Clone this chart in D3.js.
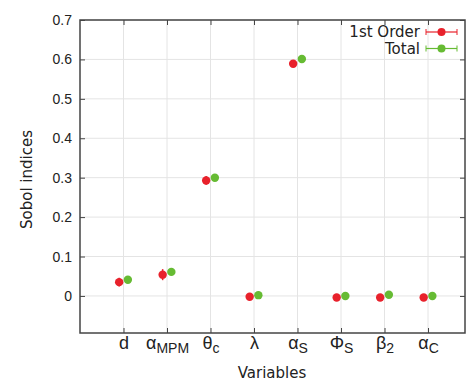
<!DOCTYPE html>
<html>
<head>
<meta charset="utf-8">
<script src="https://cdn.jsdelivr.net/npm/d3@7"></script>
<style>
  body { margin: 0; background: #fff; }
  svg { font-family: "DejaVu Sans", sans-serif; }
</style>
</head>
<body>
<script>
// Categories: [base symbol, subscript]
const categories = [["d", ""], ["α", "MPM"], ["θ", "c"], ["λ", ""], ["α", "S"], ["Φ", "S"], ["β", "2"], ["α", "C"]];
const firstOrder = [0.035, 0.054, 0.293, -0.002, 0.589, -0.004, -0.004, -0.004];
const firstOrderErr = [0.011, 0.014, 0.011, 0.007, 0.005, 0.007, 0.007, 0.007];
const total = [0.041, 0.061, 0.300, 0.002, 0.601, 0.000, 0.003, 0.000];
const totalErr = [0.004, 0.004, 0.004, 0.003, 0.009, 0.003, 0.003, 0.003];
const yTicks = [0, 0.1, 0.2, 0.3, 0.4, 0.5, 0.6, 0.7];

const width = 469;
const height = 382;
const marginTop = 20;
const marginRight = 4;
const marginBottom = 49;
const marginLeft = 80;

const x = d3.scaleLinear([0, 8.85], [marginLeft, width - marginRight]);
const y = d3.scaleLinear([-0.094, 0.7], [height - marginBottom, marginTop]);

const red = "#e8212b";
const green = "#66bb33";

const svg = d3.select("body").append("svg")
  .attr("width", width)
  .attr("height", height)
  .attr("viewBox", [0, 0, width, height]);

const idx = d3.range(1, categories.length + 1);

// Grid lines
svg.append("g")
  .selectAll("line.h")
  .data(yTicks)
  .join("line")
  .attr("x1", marginLeft).attr("x2", width - marginRight)
  .attr("y1", (d) => y(d)).attr("y2", (d) => y(d))
  .attr("stroke", "#e4e4e4");
svg.append("g")
  .selectAll("line.v")
  .data(idx)
  .join("line")
  .attr("x1", (d) => x(d)).attr("x2", (d) => x(d))
  .attr("y1", marginTop).attr("y2", height - marginBottom)
  .attr("stroke", "#e4e4e4");

// Left axis
svg.append("g")
  .attr("transform", `translate(${marginLeft},0)`)
  .call(d3.axisLeft(y).tickValues(yTicks).tickSize(-5).tickPadding(8)
    .tickFormat((d) => d === 0 ? "0" : d3.format(".1f")(d)))
  .call((g) => g.select(".domain").remove())
  .call((g) => g.selectAll("text").attr("font-size", 14).attr("fill", "#222"))
  .call((g) => g.selectAll(".tick line").attr("stroke", "#444"));

// Right mirror ticks
svg.append("g")
  .attr("transform", `translate(${width - marginRight},0)`)
  .call(d3.axisRight(y).tickValues(yTicks).tickSize(-5).tickFormat(""))
  .call((g) => g.select(".domain").remove())
  .call((g) => g.selectAll(".tick line").attr("stroke", "#444"));

// Bottom axis
const xAxis = svg.append("g")
  .attr("transform", `translate(0,${height - marginBottom})`)
  .call(d3.axisBottom(x).tickValues(idx).tickSize(-5).tickPadding(3).tickFormat(""))
  .call((g) => g.select(".domain").remove())
  .call((g) => g.selectAll(".tick line").attr("stroke", "#444"));

xAxis.selectAll(".tick text")
  .attr("font-size", 18)
  .attr("fill", "#222")
  .attr("dy", "0.71em")
  .each(function (d) {
    const [base, sub] = categories[d - 1];
    const t = d3.select(this);
    t.append("tspan").text(base);
    if (sub) {
      t.append("tspan").attr("font-size", 14).attr("dy", 4).text(sub);
    }
  });

// Top mirror ticks
svg.append("g")
  .attr("transform", `translate(0,${marginTop})`)
  .call(d3.axisTop(x).tickValues(idx).tickSize(-5).tickFormat(""))
  .call((g) => g.select(".domain").remove())
  .call((g) => g.selectAll(".tick line").attr("stroke", "#444"));

// Frame
svg.append("rect")
  .attr("x", marginLeft).attr("y", marginTop)
  .attr("width", width - marginLeft - marginRight)
  .attr("height", height - marginTop - marginBottom)
  .attr("fill", "none").attr("stroke", "#444").attr("stroke-width", 1.5);

// Axis labels
svg.append("text")
  .attr("transform", `translate(27,${(marginTop + height - marginBottom) / 2 + 3}) rotate(-90)`)
  .attr("text-anchor", "middle")
  .attr("dy", "0.35em")
  .attr("font-size", 15)
  .attr("fill", "#222")
  .text("Sobol indices");

svg.append("text")
  .attr("x", 272).attr("y", 373)
  .attr("text-anchor", "middle")
  .attr("dy", "0.35em")
  .attr("font-size", 15)
  .attr("fill", "#222")
  .text("Variables");

// Series with error bars
function drawSeries(values, errs, offset, color) {
  const g = svg.append("g");
  const pts = values.map((v, i) => ({ i: i + 1, v, e: errs[i] }));
  g.selectAll("line.err")
    .data(pts)
    .join("line")
    .attr("x1", (d) => x(d.i + offset)).attr("x2", (d) => x(d.i + offset))
    .attr("y1", (d) => y(d.v - d.e)).attr("y2", (d) => y(d.v + d.e))
    .attr("stroke", color).attr("stroke-width", 1.5);
  g.selectAll("circle")
    .data(pts)
    .join("circle")
    .attr("cx", (d) => x(d.i + offset))
    .attr("cy", (d) => y(d.v))
    .attr("r", 4.2)
    .attr("fill", color);
}
drawSeries(firstOrder, firstOrderErr, -0.1, red);
drawSeries(total, totalErr, 0.1, green);

// Legend
const legend = [["1st Order", red], ["Total", green]];
const lg = svg.append("g").selectAll("g").data(legend).join("g")
  .attr("transform", (d, i) => `translate(0,${32 + i * 16.5})`);
lg.append("text")
  .attr("x", 420).attr("dy", "0.35em")
  .attr("text-anchor", "end")
  .attr("font-size", 15)
  .attr("fill", "#222")
  .text((d) => d[0]);
lg.append("line")
  .attr("x1", 426).attr("x2", 457)
  .attr("stroke", (d) => d[1]).attr("stroke-width", 1.2);
lg.append("line").attr("x1", 426).attr("x2", 426).attr("y1", -3).attr("y2", 3)
  .attr("stroke", (d) => d[1]);
lg.append("line").attr("x1", 457).attr("x2", 457).attr("y1", -3).attr("y2", 3)
  .attr("stroke", (d) => d[1]);
lg.append("circle").attr("cx", 441.5).attr("r", 4).attr("fill", (d) => d[1]);
</script>
</body>
</html>
